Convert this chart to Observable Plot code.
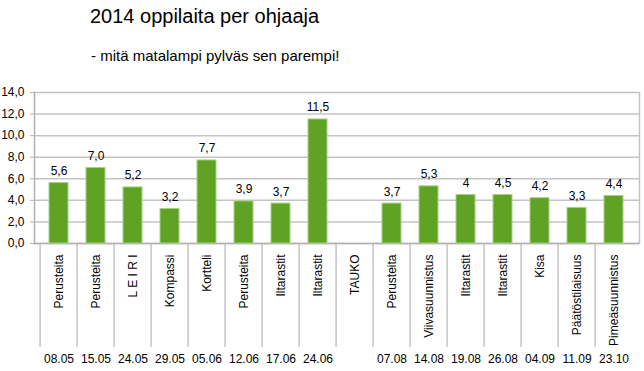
<!DOCTYPE html>
<html><head><meta charset="utf-8">
<script src="https://cdn.jsdelivr.net/npm/d3@7"></script>
<script src="https://cdn.jsdelivr.net/npm/@observablehq/plot@0.6"></script>
<style>
body{margin:0;background:#fff;font-family:"Liberation Sans",Arial,sans-serif;color:#000;}
#wrap{width:644px;}
#title{height:80px;position:relative;}
#t1{position:absolute;left:90px;top:6px;font-size:20px;line-height:1;white-space:nowrap;}
#t2{position:absolute;left:91px;top:48px;font-size:15px;line-height:1;white-space:nowrap;}
#chart svg{display:block;}
</style></head>
<body><div id="wrap"><div id="title"><div id="t1">2014 oppilaita per ohjaaja</div><div id="t2">- mitä matalampi pylväs sen parempi!</div></div><div id="chart"></div></div>
<script>
const activities = ["Perusteita","Perusteita","L E I R I","Kompassi","Kortteli","Perusteita","Iltarastit","Iltarastit","TAUKO","Perusteita","Viivasuunnistus","Iltarastit","Iltarastit","Kisa","Päätöstilaisuus","Pimeäsuunnistus"];
const dates = ["08.05","15.05","24.05","29.05","05.06","12.06","17.06","24.06","","07.08","14.08","19.08","26.08","04.09","11.09","23.10"];
const values = [5.6,7.0,5.2,3.2,7.7,3.9,3.7,11.5,null,3.7,5.3,4.5,4.5,4.2,3.3,4.4];
const valueLabels = ["5,6","7,0","5,2","3,2","7,7","3,9","3,7","11,5","","3,7","5,3","4","4,5","4,2","3,3","4,4"];
const yTicks = [0,2,4,6,8,10,12,14];

const keys = activities.map((_, i) => i);
const data = keys.map(i => ({key: i, value: values[i], label: valueLabels[i]})).filter(d => d.value != null);

const W = 644, H = 291;
const mL = 34, mR = 5, mT = 12, mB = 128;
const step = (W - mL - mR) / keys.length;

const chart = Plot.plot({
  width: W, height: H,
  marginLeft: mL, marginRight: mR, marginTop: mT, marginBottom: mB,
  style: {fontFamily: "'Liberation Sans', Arial, sans-serif", fontSize: "12px", color: "#000", background: "#fff"},
  x: {domain: keys, paddingInner: 0.48, paddingOuter: 0.24, axis: null},
  y: {domain: [0, 14], axis: null},
  marks: [
    Plot.gridY(yTicks, {stroke: "#c4c4c4", strokeOpacity: 1, strokeWidth: 1.5}),
    Plot.frame({anchor: "right", stroke: "#c4c4c4", strokeWidth: 1.5}),
    Plot.frame({anchor: "left", stroke: "#b0b0b0", strokeWidth: 1.5}),
    Plot.axisX(keys, {anchor: "bottom", tickSize: 104, tickFormat: () => "", dx: -step / 2, stroke: "#c4c4c4", strokeWidth: 1.5, label: null}),
    Plot.axisX(keys, {anchor: "bottom", tickSize: 0, tickPadding: 11, tickRotate: -90, tickFormat: i => activities[i], fontSize: 12, fill: "#000", label: null}),
    Plot.axisX(keys, {anchor: "bottom", tickSize: 0, tickPadding: 111, tickFormat: i => dates[i], fontSize: 12, fill: "#000", label: null}),
    Plot.axisY(yTicks, {anchor: "left", tickSize: 4, tickPadding: 6, tickFormat: d => d.toFixed(1).replace(".", ","), fontSize: 12, stroke: "#b0b0b0", fill: "#000", label: null}),
    Plot.ruleY([0], {stroke: "#b0b0b0", strokeWidth: 1.5}),
    Plot.barY(data, {x: "key", y: "value", fill: "#5fa224", stroke: "#a6d185", strokeWidth: 1}),
    Plot.text(data, {x: "key", y: "value", text: "label", dy: -8, lineAnchor: "bottom", fontSize: 12, fill: "#000"})
  ]
});
document.getElementById("chart").appendChild(chart);
</script>
</body></html>
